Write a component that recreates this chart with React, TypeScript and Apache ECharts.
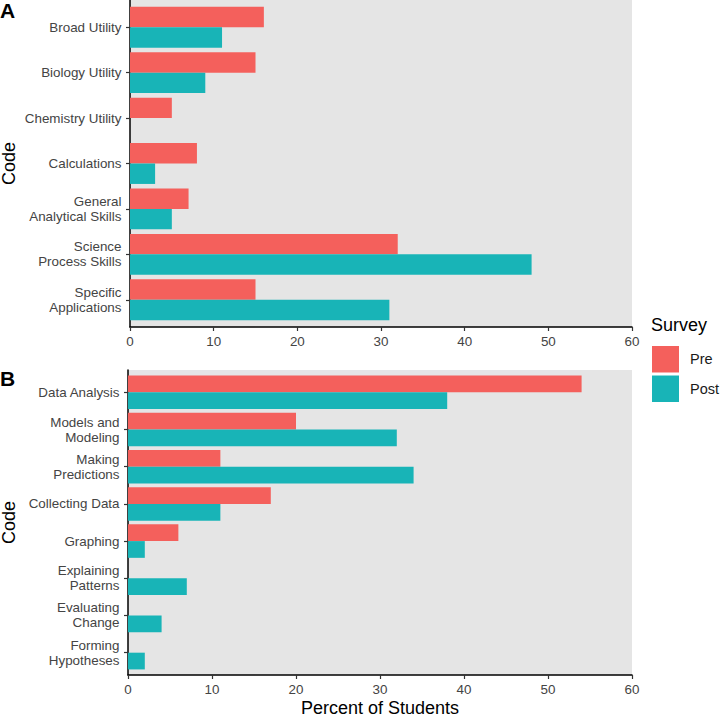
import React, { useEffect, useRef } from "react";
import * as echarts from "echarts";

const codesA = [
  "Broad Utility",
  "Biology Utility",
  "Chemistry Utility",
  "Calculations",
  "General\nAnalytical Skills",
  "Science\nProcess Skills",
  "Specific\nApplications",
];
const preA = [16, 15, 5, 8, 7, 32, 15];
const postA = [11, 9, 0, 3, 5, 48, 31];

const codesB = [
  "Data Analysis",
  "Models and\nModeling",
  "Making\nPredictions",
  "Collecting Data",
  "Graphing",
  "Explaining\nPatterns",
  "Evaluating\nChange",
  "Forming\nHypotheses",
];
const preB = [54, 20, 11, 17, 6, 0, 0, 0];
const postB = [38, 32, 34, 11, 2, 7, 4, 2];

const xTicks = { min: 0, max: 60, interval: 10 };
const surveyNames = ["Pre", "Post"];

const PRE_COLOR = "#F4605C";
const POST_COLOR = "#18B4B7";
const FONT = "Liberation Sans, Arial, Helvetica, sans-serif";

export default function App() {
  const ref = useRef<HTMLDivElement>(null);
  useEffect(() => {
    if (!ref.current) return;
    const chart = echarts.init(ref.current, null, { renderer: "svg" });

    const W = 720;
    const rightEdge = 632;
    // Panel A
    const aLeft = 130, aTop = 0, aH = 327;
    const aBand = aH / (codesA.length - 1 + 1.2);
    const aInset = aBand * 0.1;
    // Panel B
    const bLeft = 128, bTop = 370, bH = 305;
    const bBand = bH / (codesB.length - 1 + 1.2);
    const bInset = bBand * 0.1;

    const tickLabel = { color: "#444", fontSize: 13.4, fontFamily: FONT };

    const outerX = (gridIndex: number, withName: boolean) => ({
      type: "value",
      gridIndex,
      min: xTicks.min,
      max: xTicks.max,
      interval: xTicks.interval,
      axisLine: { show: true, onZero: false, lineStyle: { color: "#000", width: 1.5 } },
      axisTick: { show: true, length: 4, lineStyle: { color: "#333", width: 1.2 } },
      axisLabel: { ...tickLabel, margin: 8 },
      splitLine: { show: false },
      name: withName ? "Percent of Students" : "",
      nameLocation: "middle",
      nameGap: 24,
      nameTextStyle: { color: "#000", fontSize: 18, fontFamily: FONT },
    });
    const innerX = (gridIndex: number) => ({
      type: "value",
      gridIndex,
      min: xTicks.min,
      max: xTicks.max,
      interval: xTicks.interval,
      show: false,
    });
    const outerY = (gridIndex: number, gap: number) => ({
      type: "value",
      gridIndex,
      min: 0,
      max: 1,
      axisLine: { show: true, onZero: false, lineStyle: { color: "#000", width: 1.5 } },
      axisTick: { show: false },
      axisLabel: { show: false },
      splitLine: { show: false },
      name: "Code",
      nameLocation: "middle",
      nameGap: gap,
      nameRotate: 90,
      nameTextStyle: { color: "#000", fontSize: 18, fontFamily: FONT },
    });
    const innerY = (gridIndex: number, data: string[]) => ({
      type: "category",
      gridIndex,
      data,
      inverse: true,
      axisLine: { show: false },
      axisTick: { show: true, alignWithLabel: true, length: 4, lineStyle: { color: "#333", width: 1.2 } },
      axisLabel: { ...tickLabel, margin: 8.5, lineHeight: 15, interval: 0 },
      splitLine: { show: false },
    });

    const barSeries = (name: string, data: number[], idx: number, color: string) => ({
      type: "bar",
      name,
      data,
      xAxisIndex: idx,
      yAxisIndex: idx,
      barGap: "0%",
      barCategoryGap: "10%",
      itemStyle: { color },
      emphasis: { disabled: true },
    });

    const gridBase = { outerBoundsMode: "none", containLabel: false };

    chart.setOption({
      animation: false,
      grid: [
        { ...gridBase, left: aLeft, right: W - rightEdge, top: aTop, height: aH, show: true, backgroundColor: "#E5E5E5", borderWidth: 0 },
        { ...gridBase, left: aLeft, right: W - rightEdge, top: aTop + aInset, height: aH - 2 * aInset },
        { ...gridBase, left: bLeft, right: W - rightEdge, top: bTop, height: bH, show: true, backgroundColor: "#E5E5E5", borderWidth: 0 },
        { ...gridBase, left: bLeft, right: W - rightEdge, top: bTop + bInset, height: bH - 2 * bInset },
      ],
      xAxis: [outerX(0, false), innerX(1), outerX(2, true), innerX(3)],
      yAxis: [outerY(0, 112), innerY(1, codesA), outerY(2, 110), innerY(3, codesB)],
      legend: {
        orient: "vertical",
        left: 652,
        top: 346,
        padding: 0,
        itemWidth: 27,
        itemHeight: 26.5,
        itemGap: 3,
        icon: "rect",
        selectedMode: false,
        data: surveyNames,
        textStyle: { color: "#1A1A1A", fontSize: 14.5, fontFamily: FONT, padding: [0, 0, 0, 6] },
      },
      graphic: [
        { type: "text", left: 651, top: 316, style: { text: "Survey", fontSize: 18, fontFamily: FONT, fill: "#000" } },
        { type: "text", left: 0, top: 0, style: { text: "A", fontSize: 21, fontWeight: "bold", fontFamily: FONT, fill: "#000" } },
        { type: "text", left: 0, top: 368, style: { text: "B", fontSize: 21, fontWeight: "bold", fontFamily: FONT, fill: "#000" } },
      ],
      series: [
        barSeries(surveyNames[0], preA, 1, PRE_COLOR),
        barSeries(surveyNames[1], postA, 1, POST_COLOR),
        barSeries(surveyNames[0], preB, 3, PRE_COLOR),
        barSeries(surveyNames[1], postB, 3, POST_COLOR),
      ],
    });
    return () => chart.dispose();
  }, []);
  return (
    <div
      ref={ref}
      style={{ position: "fixed", left: 0, top: 0, width: 720, height: 717, background: "#fff" }}
    />
  );
}
